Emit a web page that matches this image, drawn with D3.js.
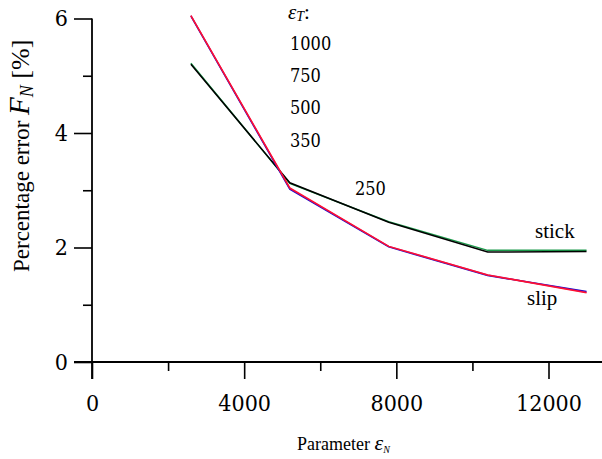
<!DOCTYPE html>
<html>
<head>
<meta charset="utf-8">
<script src="https://cdn.jsdelivr.net/npm/d3@7"></script>
<style>
  body { margin: 0; background: #fff; }
  svg text { font-family: "Liberation Serif", "Times New Roman", serif; fill: #000; }
  svg text.num { font-family: "DejaVu Serif", serif; font-stretch: condensed; }
</style>
</head>
<body>
<div id="chart"></div>
<script>
// values
const paramN = [2600, 5200, 7800, 10400, 13000];
const stickGreen = [5.22, 3.12, 2.45, 1.95, 1.95];
const stickBlack = [5.20, 3.13, 2.44, 1.92, 1.93];
const slipBlue = [6.04, 3.02, 2.01, 1.51, 1.23];
const slipMagenta = [6.05, 3.03, 2.02, 1.52, 1.22];
const slipRed = [6.05, 3.04, 2.02, 1.52, 1.21];
const epsT = ["1000", "750", "500", "350"];
const xMajor = [0, 4000, 8000, 12000];
const xMinor = [2000, 6000, 10000];
const yMajor = [0, 2, 4, 6];
const yMinor = [1, 3, 5];

const width = 602, height = 459;

const x = d3.scaleLinear().domain([0, 12000]).range([92, 548.5]);
const y = d3.scaleLinear().domain([0, 6]).range([362, 18.5]);

const svg = d3.select("#chart").append("svg")
    .attr("width", width)
    .attr("height", height);

// axes lines (they run past the origin like in the original)
svg.append("line")
    .attr("x1", x(0) - 18).attr("x2", width)
    .attr("y1", y(0)).attr("y2", y(0))
    .attr("stroke", "#000").attr("stroke-width", 1.8);
svg.append("line")
    .attr("x1", x(0)).attr("x2", x(0))
    .attr("y1", y(6)).attr("y2", y(0) + 17)
    .attr("stroke", "#000").attr("stroke-width", 1.8);

const tickStyle = g => {
    g.select(".domain").remove();
    g.selectAll("line").attr("stroke", "#000").attr("stroke-width", 1.6);
    g.selectAll("text").attr("class", "num").style("font-size", "23px");
};

svg.append("g")
    .attr("transform", `translate(0, ${y(0)})`)
    .call(d3.axisBottom(x).tickValues(xMajor).tickSize(17).tickPadding(16).tickFormat(d3.format("d")))
    .call(tickStyle);
svg.append("g")
    .attr("transform", `translate(0, ${y(0)})`)
    .call(d3.axisBottom(x).tickValues(xMinor).tickSize(9).tickFormat(""))
    .call(tickStyle);

svg.append("g")
    .attr("transform", `translate(${x(0)}, 0)`)
    .call(d3.axisLeft(y).tickValues(yMajor).tickSize(18).tickPadding(6).tickFormat(d3.format("d")))
    .call(tickStyle);
svg.append("g")
    .attr("transform", `translate(${x(0)}, 0)`)
    .call(d3.axisLeft(y).tickValues(yMinor).tickSize(9).tickFormat(""))
    .call(tickStyle);

// lines
const line = d3.line().x((d, i) => x(paramN[i])).y(d => y(d));
const series = [
    { vals: stickGreen, color: "#1a9a4a" },
    { vals: stickBlack, color: "#000000" },
    { vals: slipBlue, color: "#1010d0" },
    { vals: slipMagenta, color: "#b0008a" },
    { vals: slipRed, color: "#ff1030" }
];
svg.selectAll(".series")
    .data(series)
    .enter()
    .append("path")
    .attr("class", "series")
    .attr("d", d => line(d.vals))
    .attr("fill", "none")
    .attr("stroke", d => d.color)
    .attr("stroke-width", 1.5)
    .attr("stroke-opacity", (d, i) => i === 3 ? 0.7 : 1);

// eps_T labels
const lab = svg.append("text").attr("x", 288).attr("y", 19).style("font-size", "21px");
lab.append("tspan").text("ε").style("font-style", "italic");
lab.append("tspan").text("T").attr("dy", 2).style("font-size", "14px").style("font-style", "italic");
lab.append("tspan").text(":").attr("dy", -2);

svg.selectAll(".epsT")
    .data(epsT)
    .enter()
    .append("text")
    .attr("class", "num")
    .attr("x", 290)
    .attr("y", (d, i) => 50 + i * 32.2)
    .style("font-size", "18px")
    .text(d => d);

svg.append("text").attr("class", "num").attr("x", 355).attr("y", 195).style("font-size", "18px").text("250");
svg.append("text").attr("x", 535).attr("y", 238).style("font-size", "21px").text("stick");
svg.append("text").attr("x", 527).attr("y", 305).style("font-size", "21px").text("slip");

// axis titles
const yt = svg.append("text")
    .attr("transform", "translate(29, 272) rotate(-90)");
yt.append("tspan").text("Percentage error ").style("font-size", "23px");
yt.append("tspan").text("F").style("font-size", "29px").style("font-style", "italic");
yt.append("tspan").text("N").attr("dy", 4).style("font-size", "18px").style("font-style", "italic");
yt.append("tspan").text(" [%]").attr("dy", -4).style("font-size", "26px");

const xt = svg.append("text").attr("x", 297).attr("y", 450);
xt.append("tspan").text("Parameter ").style("font-size", "18px");
xt.append("tspan").text("ε").style("font-size", "22px").style("font-style", "italic");
xt.append("tspan").text("N").attr("dy", 3).style("font-size", "10px").style("font-style", "italic");
</script>
</body>
</html>
